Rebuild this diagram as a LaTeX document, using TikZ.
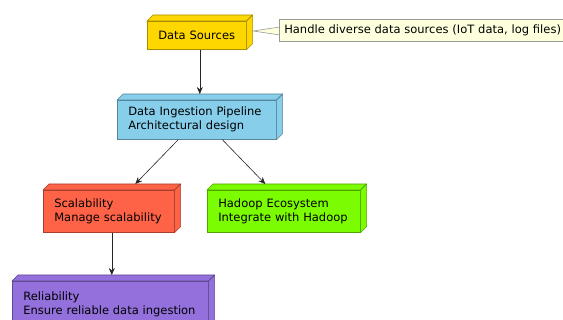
\documentclass[tikz,border=0pt]{standalone}
\usepackage{fontspec}
\setmainfont{DejaVu Sans}
\usetikzlibrary{arrows.meta}
\definecolor{dsfill}{HTML}{FFD700}
\definecolor{dipfill}{HTML}{87CEEB}
\definecolor{scfill}{HTML}{FF6347}
\definecolor{hdfill}{HTML}{7CFC00}
\definecolor{rlfill}{HTML}{9370DB}
\definecolor{notefill}{HTML}{FEFFDD}
\definecolor{notedraw}{HTML}{999999}
\tikzset{
  x=1pt,y=-1pt,
  front/.style={draw=#1!65!black, fill=#1, line width=0.6pt, rectangle, inner xsep=11pt, inner ysep=0pt,
    align=left, font=\fontsize{11.5}{14}\selectfont, anchor=north west},
  side/.style={draw=#1!65!black, fill=#1, line width=0.6pt, line join=round},
  conn/.style={draw=black!85, line width=0.6pt, -{Stealth[length=7pt,width=6pt]}},
}
\newcommand{\cubenode}[7]{%
  \node[front=#6, text width=#4pt-22pt, minimum height=#5pt] (#1) at (#2,#3) {#7};
  \path[side=#6] (#1.north west) -- ++(6,-6) -- ([shift={(6,-6)}]#1.north east) -- (#1.north east) -- cycle;
  \path[side=#6] (#1.north east) -- ++(6,-6) -- ([shift={(6,-6)}]#1.south east) -- (#1.south east) -- cycle;
  \coordinate (#1-top) at ([shift={(3,-6)}]#1.north);
  \coordinate (#1-bot) at ([xshift=3]#1.south);
}
\begin{document}
\begin{tikzpicture}
\useasboundingbox (0,0) rectangle (563,320);
\begin{scope}
\clip (0,0) rectangle (563,320);
\cubenode{ds}{147}{21}{99}{28}{dsfill}{Data Sources}
\cubenode{dip}{117}{100}{159}{39}{dipfill}{Data Ingestion Pipeline\\Architectural design}
\cubenode{sc}{43}{190}{131}{42}{scfill}{Scalability\\Manage scalability}
\cubenode{hd}{207}{190}{153}{42}{hdfill}{Hadoop Ecosystem\\Integrate with Hadoop}
\cubenode{rl}{12}{281}{196}{46}{rlfill}{Reliability\\Ensure reliable data ingestion}
% note
\coordinate (wedge) at (253,31);
\path[draw=notedraw, fill=notefill, line width=0.6pt] (wedge) -- (280,27) -- (280,35) -- cycle;
\node[draw=notedraw, fill=notefill, line width=0.6pt, anchor=north west, minimum width=290pt, minimum height=22pt,
  inner xsep=5pt, inner ysep=0pt, text width=280pt, align=left, font=\fontsize{11.5}{14}\selectfont] (note) at (279,19.5)
  {Handle diverse data sources (IoT data, log files)};
% arrows
\draw[conn] (ds-bot) -- (ds-bot |- dip-top);
\draw[conn] ([xshift=-18.5]dip.south) -- ([xshift=23.5]sc-top);
\draw[conn] ([xshift=25.5]dip.south) -- ([xshift=-21.5]hd-top);
\draw[conn] (sc-bot) -- (sc-bot |- rl-top);
\end{scope}
\end{tikzpicture}
\end{document}
